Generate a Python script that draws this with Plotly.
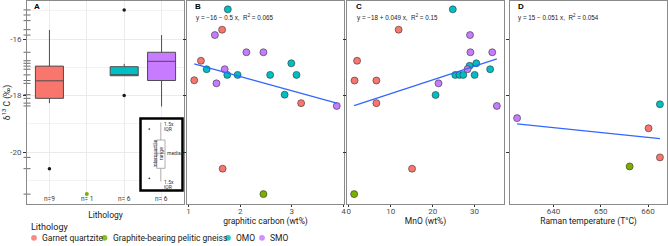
import numpy as np
import plotly.graph_objects as go

# ---------------- data ----------------
lithology = ["Garnet quartzite", "Graphite-bearing pelitic gneiss", "OMO", "SMO"]
colors = ["#F8766D", "#7CAE00", "#00BFC4", "#C77CFF"]
n_labels = ["n=9", "n= 1", "n= 6", "n= 6"]

# Panel A: box statistics (None = no box, single sample)
box_q1 = [-18.10, None, -17.30, -17.47]
box_median = [-17.48, None, -17.30, -16.79]
box_q3 = [-16.96, None, -16.98, -16.47]
box_lower = [-18.27, None, -17.30, -18.39]
box_upper = [-15.68, None, -16.88, -15.86]
outlier_cat = [0, 2, 2]
outlier_d13c = [-20.59, -14.97, -18.00]
single_cat = [1]
single_d13c = [-21.49]
rug_d13c = [-14.97, -15.15, -15.35, -15.67, -15.86, -16.47, -16.77, -16.86, -16.96,
            -17.07, -17.27, -17.47, -17.57, -17.97, -18.10, -18.27, -18.37, -20.19,
            -20.59, -21.49]

# Panel B: graphitic carbon (wt%)
b_x = [[1.65, 1.24, 1.11, 3.18, 1.66],
       [2.45],
       [1.76, 2.99, 1.35, 1.75, 1.95, 2.58, 3.09, 2.86],
       [1.51, 2.12, 2.45, 1.70, 1.54, 3.87]]
b_y = [[-15.67, -16.77, -17.46, -18.27, -20.59],
       [-21.49],
       [-14.95, -16.86, -17.07, -17.27, -17.27, -17.27, -17.27, -17.97],
       [-15.86, -16.47, -16.47, -17.07, -17.57, -18.37]]

# Panel C: MnO (wt%)
c_x = [[11.9, 2.0, 1.4, 6.6, 6.6, 15.1],
       [1.3],
       [24.8, 30.4, 28.8, 33.7, 25.4, 26.4, 27.3, 30.0, 20.7],
       [28.9, 29.0, 34.2, 28.3, 21.4, 35.3]]
c_y = [[-15.67, -16.77, -17.47, -17.47, -18.27, -20.59],
       [-21.49],
       [-14.95, -16.86, -16.95, -17.07, -17.27, -17.27, -17.27, -17.27, -17.98],
       [-15.86, -16.47, -16.47, -17.07, -17.57, -18.37]]

# Panel D: Raman temperature (T°C)
d_x = [[660.1, 662.5], [656.1], [662.5], [632.3]]
d_y = [[-19.16, -20.19], [-20.51], [-18.31], [-18.80]]

equations = ["y = \u221216 \u2212 0.5 x,  R<sup>2</sup> = 0.065",
             "y = \u221218 + 0.049 x,  R<sup>2</sup> = 0.15",
             "y = 15 \u2212 0.051 x,  R<sup>2</sup> = 0.054"]
panel_letters = ["A", "B", "C", "D"]
x_titles = ["Lithology", "graphitic carbon (wt%)", "MnO (wt%)", "Raman temperature (T\u00b0C)"]
b_ticks = [1, 2, 3, 4]
c_ticks = [0, 10, 20, 30]
d_ticks = [640, 650, 660]
y_ticks = [-20, -18, -16]

# ---------------- layout helpers ----------------
W, H = 668, 246
FONT = "Roboto, Liberation Sans, sans-serif"


def px(x):
    return x / W


def py(y):
    return 1 - y / H


doms = [[px(27), px(184)], [px(187), px(344)], [px(347), px(504)], [px(510), px(667)]]
ydom = [py(204), py(1)]
yrange = [-21.84, -14.655]
xranges = [[-0.6, 3.6], [0.97, 4.01], [-0.4, 37.0], [630.8, 664.0]]

fig = go.Figure()

# ---- Panel A boxes ----
for i, name in enumerate(lithology):
    if box_q1[i] is None:
        continue
    fig.add_trace(go.Box(
        x=[i], q1=[box_q1[i]], median=[box_median[i]], q3=[box_q3[i]],
        lowerfence=[box_lower[i]], upperfence=[box_upper[i]],
        fillcolor=colors[i], line=dict(color="#4d4d4d", width=1),
        width=0.75, whiskerwidth=0, boxpoints=False, showlegend=False,
        hoverinfo="skip", xaxis="x", yaxis="y"))

fig.add_trace(go.Scatter(x=outlier_cat, y=outlier_d13c, mode="markers",
                         marker=dict(color="#1a1a1a", size=3.5), showlegend=False,
                         xaxis="x", yaxis="y"))
fig.add_trace(go.Scatter(x=single_cat, y=single_d13c, mode="markers",
                         marker=dict(color=colors[1], size=4), showlegend=False,
                         xaxis="x", yaxis="y"))
fig.add_trace(go.Scatter(x=[xranges[0][0]] * len(rug_d13c), y=rug_d13c, mode="markers",
                         marker=dict(symbol="line-ew", size=5, line=dict(color="#444", width=0.8)),
                         showlegend=False, cliponaxis=False, xaxis="x", yaxis="y"))

# ---- Panels B, C, D points and fits ----
panels = [(b_x, b_y, "x2", "y2"), (c_x, c_y, "x3", "y3"), (d_x, d_y, "x4", "y4")]
for px_, py_, xa, ya in panels:
    for i, name in enumerate(lithology):
        fig.add_trace(go.Scatter(
            x=px_[i], y=py_[i], mode="markers", name=name, showlegend=False,
            marker=dict(color=colors[i], size=7, line=dict(color="#333333", width=0.6)),
            xaxis=xa, yaxis=ya))
    allx = np.concatenate([np.array(v, float) for v in px_])
    ally = np.concatenate([np.array(v, float) for v in py_])
    slope, icpt = np.polyfit(allx, ally, 1)
    xs = np.array([allx.min(), allx.max()])
    fig.add_trace(go.Scatter(x=xs, y=icpt + slope * xs, mode="lines",
                             line=dict(color="#3366FF", width=1.3), showlegend=False,
                             hoverinfo="skip", xaxis=xa, yaxis=ya))

# ---------------- axes ----------------
frame = dict(showline=True, mirror=True, linecolor="#8a8a8a", linewidth=1, zeroline=False)
tickfont = dict(family=FONT, size=8, color="#4d4d4d")
titlefont = dict(family=FONT, size=8.5, color="#1a1a1a")

layout = dict(
    width=W, height=H, margin=dict(l=0, r=0, t=0, b=0),
    paper_bgcolor="white", plot_bgcolor="white", boxmode="overlay", showlegend=False,
    font=dict(family=FONT, color="#1a1a1a"),
    xaxis=dict(domain=doms[0], range=xranges[0], anchor="y", tickvals=[0, 1, 2, 3],
               showticklabels=False, ticks="", showgrid=True, gridcolor="#ebebeb",
               gridwidth=0.6, automargin=False,
               title=dict(text=x_titles[0], font=titlefont, standoff=8),
               **frame),
    yaxis=dict(domain=ydom, range=yrange, anchor="x", tickvals=y_ticks,
               ticktext=["-20", "-18", "-16"], ticks="outside", ticklen=3, tickcolor="#333",
               tickfont=tickfont, showgrid=True, gridcolor="#ebebeb", gridwidth=0.6,
               automargin=False,
               minor=dict(tickvals=[-21, -19, -17, -15], showgrid=True, gridcolor="#f3f3f3",
                          ticks=""),
               title=dict(text="\u03b4<sup>13</sup> C (\u2030)", font=titlefont, standoff=2),
               **frame),
)
tick_sets = [None, b_ticks, c_ticks, d_ticks]
for k in range(1, 4):
    layout[f"xaxis{k+1}"] = dict(domain=doms[k], range=xranges[k], anchor=f"y{k+1}",
                                 tickvals=tick_sets[k], ticks="outside", ticklen=2,
                                 tickcolor="#333", tickfont=tickfont, showgrid=False,
                                 ticklabelstandoff=-3, automargin=False,
                                 title=dict(text=x_titles[k], font=titlefont, standoff=1),
                                 **frame)
    layout[f"yaxis{k+1}"] = dict(domain=ydom, range=yrange, anchor=f"x{k+1}",
                                 tickvals=y_ticks, showticklabels=False, ticks="outside",
                                 ticklen=3, tickcolor="#333", showgrid=False,
                                 automargin=False, **frame)
fig.update_layout(**layout)

# ---------------- legend (below panels) ----------------
fig.add_annotation(x=px(29), y=py(226.5), xref="paper", yref="paper", text="Lithology",
                   showarrow=False, xanchor="left", yanchor="middle",
                   font=dict(family=FONT, size=9, color="#1a1a1a"))
legend_dot_x = [34, 104.5, 228, 262]
legend_gap = 6
for i, name in enumerate(lithology):
    cx = legend_dot_x[i]
    fig.add_shape(type="circle", xref="paper", yref="paper",
                  x0=px(cx - 2.9), x1=px(cx + 2.9), y0=py(237.8 + 2.9), y1=py(237.8 - 2.9),
                  line=dict(width=0), fillcolor=colors[i], opacity=0.85)
    fig.add_annotation(x=px(cx + legend_gap), y=py(237.8), xref="paper", yref="paper",
                       text=name, showarrow=False, xanchor="left", yanchor="middle",
                       font=dict(family=FONT, size=8.5, color="#1a1a1a"))

# ---------------- annotations ----------------
letter_x = [32, 193, 354, 516]
for k in range(4):
    fig.add_annotation(x=px(letter_x[k]), y=py(6), xref="paper", yref="paper",
                       text=f"<b>{panel_letters[k]}</b>", showarrow=False,
                       xanchor="left", yanchor="middle",
                       font=dict(family="Liberation Sans, Arial", size=8, color="black"))
eq_x = [194, 355, 516]
for k in range(3):
    fig.add_annotation(x=px(eq_x[k]), y=py(17.5), xref="paper", yref="paper",
                       text=equations[k], showarrow=False, xanchor="left", yanchor="middle",
                       font=dict(family="Liberation Sans, Arial", size=6.3, color="#1a1a1a"))
for i, lab in enumerate(n_labels):
    fig.add_annotation(x=i, y=-21.68, xref="x", yref="y", text=lab, showarrow=False,
                       font=dict(family=FONT, size=6.5, color="#333"))

# ---------------- inset boxplot key (panel A) ----------------
fig.add_shape(type="rect", xref="paper", yref="paper", x0=px(140.5), x1=px(182.5),
              y0=py(190.5), y1=py(118.5), line=dict(color="black", width=2.5),
              fillcolor="white")
kc = "#8c8c8c"
fig.add_shape(type="line", xref="paper", yref="paper", x0=px(160.8), x1=px(160.8),
              y0=py(122.5), y1=py(140), line=dict(color=kc, width=0.7))
fig.add_shape(type="line", xref="paper", yref="paper", x0=px(160.8), x1=px(160.8),
              y0=py(168.3), y1=py(181.5), line=dict(color=kc, width=0.7))
fig.add_shape(type="rect", xref="paper", yref="paper", x0=px(156.7), x1=px(165),
              y0=py(168.3), y1=py(140), line=dict(color=kc, width=0.7), fillcolor="white")
fig.add_shape(type="line", xref="paper", yref="paper", x0=px(156.7), x1=px(165),
              y0=py(153.3), y1=py(153.3), line=dict(color=kc, width=0.7))
for yy in (129, 178.3):
    fig.add_shape(type="circle", xref="paper", yref="paper", x0=px(148.7), x1=px(149.9),
                  y0=py(yy + 0.6), y1=py(yy - 0.6), line=dict(color="#333", width=0.5),
                  fillcolor="#333")
keyfont = dict(family=FONT, size=5, color="#333")
for txt, xx, yy in [("1.5x", 162.2, 123.5), ("IQR", 162.2, 128.5),
                    ("1.5x", 162.2, 181.5), ("IQR", 162.2, 186.5),
                    ("median", 165.3, 153.3)]:
    fig.add_annotation(x=px(xx), y=py(yy), xref="paper", yref="paper", text=txt,
                       showarrow=False, xanchor="left", yanchor="middle", font=keyfont)
fig.add_annotation(x=px(149.5), y=py(153.5), xref="paper", yref="paper",
                   text="interquartile<br>range", textangle=-90, showarrow=False,
                   font=dict(family=FONT, size=5.2, color="#333"))

fig.write_html("out.html",
               config={"displayModeBar": False},
               post_script="document.body.style.margin='0px';"
                           "document.body.style.overflow='hidden';")
